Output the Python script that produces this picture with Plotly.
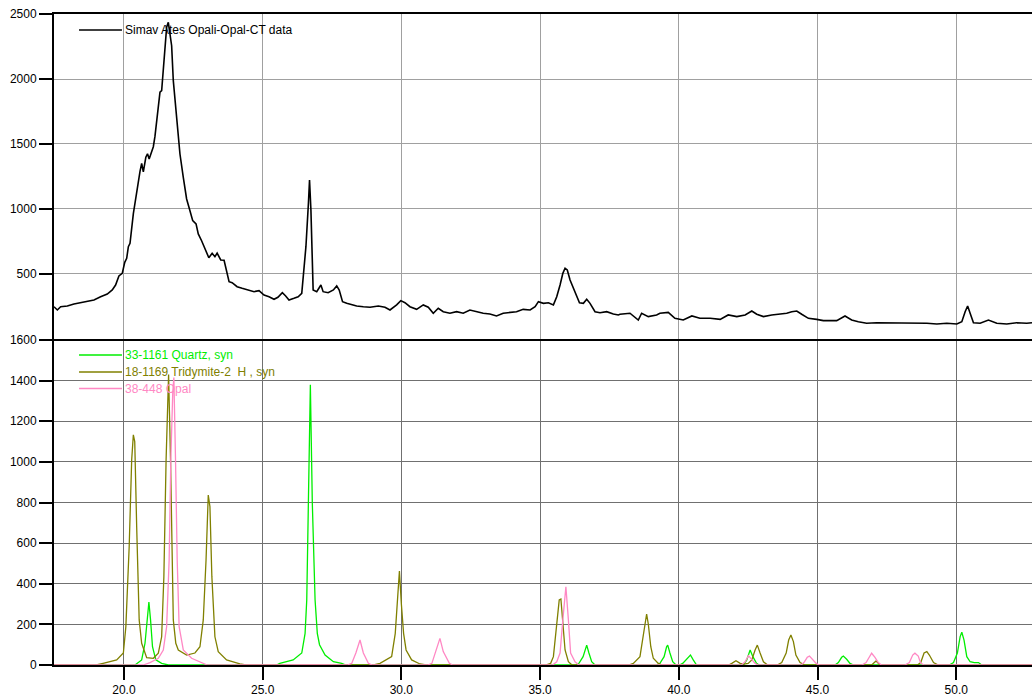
import plotly.graph_objects as go

# ---- measured pattern (2-theta, counts) ----
sample_2theta = [
    17.48, 17.60, 17.72, 17.96, 18.20, 18.44, 18.68, 18.92, 19.16, 19.40,
    19.58, 19.70, 19.82, 19.94, 20.03, 20.10, 20.16, 20.22, 20.34, 20.46,
    20.52, 20.58, 20.64, 20.70, 20.79, 20.85, 20.91, 21.00, 21.06, 21.12,
    21.18, 21.24, 21.30, 21.36, 21.42, 21.48, 21.54, 21.60, 21.66, 21.72,
    21.78, 21.90, 22.02, 22.14, 22.26, 22.38, 22.48, 22.60, 22.68, 22.80,
    22.95, 23.06, 23.18, 23.28, 23.36, 23.49, 23.61, 23.70, 23.79, 23.90,
    24.08, 24.26, 24.44, 24.69, 24.87, 25.05, 25.23, 25.41, 25.55, 25.71,
    25.83, 25.95, 26.13, 26.28, 26.41, 26.49, 26.56, 26.65, 26.69, 26.74,
    26.79, 26.82, 26.95, 27.10, 27.18, 27.36, 27.55, 27.67, 27.76, 27.88,
    28.03, 28.21, 28.39, 28.63, 28.87, 29.17, 29.41, 29.59, 29.83, 29.98,
    30.13, 30.31, 30.55, 30.79, 30.97, 31.15, 31.33, 31.51, 31.75, 31.99,
    32.23, 32.47, 32.71, 32.95, 33.19, 33.43, 33.67, 33.91, 34.15, 34.39,
    34.64, 34.82, 34.94, 35.12, 35.30, 35.48, 35.60, 35.72, 35.82, 35.90,
    35.98, 36.08, 36.18, 36.30, 36.42, 36.56, 36.68, 36.80, 36.98, 37.16,
    37.40, 37.64, 37.82, 37.88, 38.24, 38.54, 38.66, 38.90, 39.20, 39.32,
    39.62, 39.86, 40.16, 40.47, 40.76, 41.13, 41.49, 41.78, 42.09, 42.39,
    42.63, 42.81, 43.05, 43.35, 43.65, 43.89, 44.07, 44.25, 44.43, 44.67,
    44.97, 45.21, 45.45, 45.69, 45.99, 46.23, 46.47, 46.77, 47.13, 47.49,
    47.85, 48.21, 48.57, 48.94, 49.30, 49.66, 50.02, 50.20, 50.32, 50.41,
    50.50, 50.62, 50.86, 51.16, 51.46, 51.82, 52.18, 52.54, 52.73,
]
sample_counts = [
    248, 223, 248, 254, 269, 279, 292, 300, 325, 346,
    377, 415, 485, 505, 590, 620, 710, 736, 965, 1143,
    1223, 1290, 1350, 1285, 1398, 1425, 1385, 1436, 1479, 1560,
    1659, 1756, 1898, 1910, 2064, 2244, 2398, 2436, 2346, 2256,
    1987, 1679, 1423, 1244, 1077, 987, 910, 885, 808, 756,
    684, 625, 659, 633, 660, 608, 605, 518, 441, 433,
    402, 390, 377, 364, 372, 338, 325, 305, 321, 356,
    331, 300, 313, 325, 351, 531, 710, 1044, 1223, 992,
    479, 377, 364, 415, 364, 356, 377, 408, 377, 287,
    274, 262, 254, 248, 244, 254, 244, 223, 262, 295,
    279, 248, 228, 262, 244, 198, 236, 210, 198, 210,
    198, 223, 210, 198, 192, 177, 198, 202, 210, 228,
    223, 248, 287, 274, 279, 262, 325, 415, 505, 544,
    531, 454, 402, 331, 279, 274, 305, 274, 210, 202,
    210, 192, 185, 190, 198, 146, 198, 172, 185, 198,
    205, 159, 146, 177, 159, 159, 151, 185, 172, 185,
    215, 190, 172, 185, 190, 198, 210, 215, 190, 159,
    151, 141, 141, 141, 177, 146, 133, 121, 125, 125,
    121, 125, 125, 121, 115, 121, 115, 133, 210, 254,
    198, 125, 121, 146, 121, 115, 125, 121, 125,
]

# ---- reference patterns ----
quartz_2theta = [
    17.48, 20.40, 20.64, 20.76, 20.84, 20.90, 20.96, 21.03, 21.15, 21.36, 21.60,
    25.50, 25.62, 26.10, 26.41, 26.53, 26.59, 26.65, 26.72, 26.79, 26.89, 26.97,
    27.05, 27.25, 27.55, 27.85, 28.00,
    36.28, 36.40, 36.55, 36.64, 36.68, 36.76, 36.86, 36.98,
    39.20, 39.32, 39.47, 39.56, 39.60, 39.68, 39.78, 39.90,
    40.02, 40.14, 40.31, 40.42, 40.52, 40.64,
    42.33, 42.45, 42.57, 42.67, 42.80, 42.90,
    45.63, 45.75, 45.87, 45.93, 46.05, 46.17, 46.30,
    49.75, 49.90, 50.04, 50.14, 50.20, 50.28, 50.38, 50.50, 50.65, 50.80, 50.92,
    52.73,
]
quartz_counts = [
    0, 0, 25, 107, 222, 310, 222, 90, 25, 8, 0,
    0, 8, 25, 59, 156, 320, 800, 1380, 800, 320, 156,
    100, 49, 16, 8, 0,
    0, 8, 41, 90, 98, 59, 16, 0,
    0, 8, 41, 90, 98, 59, 16, 0,
    0, 8, 33, 49, 25, 0,
    0, 25, 74, 41, 8, 0,
    0, 12, 38, 44, 28, 8, 0,
    0, 12, 59, 140, 161, 123, 41, 16, 12, 12, 0,
    0,
]

tridymite_2theta = [
    17.48, 19.00, 19.25, 19.74, 19.98, 20.07, 20.19, 20.28, 20.34, 20.39,
    20.46, 20.55, 20.64, 20.82, 21.06, 21.24, 21.36, 21.44, 21.52, 21.61,
    21.68, 21.72, 21.78, 21.87, 21.96, 22.26, 22.56, 22.74, 22.86, 22.96,
    23.04, 23.10, 23.17, 23.28, 23.40, 23.70, 24.18, 24.40,
    29.00, 29.23, 29.65, 29.78, 29.86, 29.93, 30.00, 30.08, 30.17, 30.37,
    30.67, 30.90,
    35.20, 35.38, 35.48, 35.62, 35.69, 35.75, 35.82, 35.90, 36.02, 36.15,
    38.20, 38.36, 38.60, 38.72, 38.81, 38.84, 38.90, 38.99, 39.08, 39.26, 39.40,
    41.80, 41.91, 42.06, 42.21, 42.35, 42.50, 42.63, 42.75, 42.83, 42.93,
    43.05, 43.20,
    43.55, 43.71, 43.87, 43.96, 44.04, 44.13, 44.22, 44.37, 44.55,
    46.95, 47.11, 47.25,
    48.60, 48.72, 48.84, 48.94, 49.03, 49.18, 49.35,
    52.73,
]
tridymite_counts = [
    0, 0, 8, 25, 59, 189, 583, 1010, 1133, 1100,
    681, 222, 107, 36, 33, 58, 139, 435, 1010, 1430,
    1010, 681, 222, 107, 74, 49, 59, 90, 222, 517,
    837, 780, 435, 139, 66, 25, 5, 0,
    0, 8, 41, 156, 300, 463, 300, 156, 74, 25,
    5, 0,
    0, 8, 41, 222, 320, 325, 222, 74, 16, 0,
    0, 8, 41, 156, 246, 251, 202, 90, 33, 8, 0,
    0, 8, 21, 8, 4, 8, 25, 74, 98, 59,
    16, 0,
    0, 12, 59, 123, 148, 115, 49, 12, 0,
    0, 20, 0,
    0, 12, 59, 66, 49, 12, 0,
    0,
]

opal_2theta = [
    17.48, 20.70, 20.94, 21.24, 21.42, 21.54, 21.63, 21.69, 21.76, 21.80,
    21.86, 21.92, 21.99, 22.14, 22.44, 22.86, 23.00,
    28.05, 28.21, 28.36, 28.51, 28.63, 28.81, 28.95,
    30.95, 31.10, 31.25, 31.39, 31.51, 31.73, 31.85,
    35.45, 35.60, 35.72, 35.82, 35.93, 36.02, 36.10, 36.26, 36.40,
    42.25, 42.39, 42.51, 42.63, 42.75, 42.85,
    44.40, 44.51, 44.63, 44.71, 44.83, 44.95, 45.05,
    46.60, 46.75, 46.87, 46.95, 47.07, 47.19, 47.30,
    48.15, 48.31, 48.43, 48.51, 48.63, 48.72, 48.85,
    52.73,
]
opal_counts = [
    0, 0, 12, 33, 74, 189, 517, 1010, 1340, 1415,
    1010, 517, 189, 74, 33, 8, 0,
    0, 8, 59, 123, 59, 8, 0,
    0, 8, 66, 131, 66, 8, 0,
    0, 16, 59, 222, 385, 222, 59, 16, 0,
    0, 16, 46, 28, 8, 0,
    0, 12, 38, 44, 28, 8, 0,
    0, 12, 41, 58, 38, 12, 0,
    0, 12, 49, 58, 44, 8, 0,
    0,
]

sample_name = "Simav Ates Opali-Opal-CT data"
reference_names = ["33-1161 Quartz, syn", "18-1169 Tridymite-2  H , syn", "38-448 Opal"]
reference_colors = ["#00ee00", "#808000", "#ff88c4"]
x_ticks = [20, 25, 30, 35, 40, 45, 50]
x_tick_text = ["20.0", "25.0", "30.0", "35.0", "40.0", "45.0", "50.0"]
top_ticks = [500, 1000, 1500, 2000, 2500]
bottom_ticks = [0, 200, 400, 600, 800, 1000, 1200, 1400, 1600]

FONT = "Liberation Sans, Arial, sans-serif"

fig = go.Figure()

fig.add_trace(go.Scatter(
    x=sample_2theta, y=sample_counts, mode="lines", name=sample_name,
    line=dict(color="black", width=1.6), xaxis="x2", yaxis="y2",
    showlegend=False,
))

ref_series = [
    (quartz_2theta, quartz_counts),
    (tridymite_2theta, tridymite_counts),
    (opal_2theta, opal_counts),
]
for (xs, ys), name, color in zip(ref_series, reference_names, reference_colors):
    fig.add_trace(go.Scatter(
        x=xs, y=ys, mode="lines", name=name,
        line=dict(color=color, width=1.3), xaxis="x", yaxis="y",
        showlegend=False,
    ))

# legend-style keys drawn as short line segments with labels
legend_rows = [
    (0.9754, sample_name, "black"),
    (0.4762, reference_names[0], reference_colors[0]),
    (0.4501, reference_names[1], reference_colors[1]),
    (0.4247, reference_names[2], reference_colors[2]),
]
shapes = []
annotations = []
for ypos, label, color in legend_rows:
    shapes.append(dict(type="line", xref="paper", yref="paper",
                       x0=0.0256, x1=0.0695, y0=ypos, y1=ypos,
                       line=dict(color=color, width=1.5)))
    annotations.append(dict(xref="paper", yref="paper", x=0.0705, y=ypos,
                            text=label, showarrow=False, xanchor="left",
                            yanchor="middle", font=dict(family=FONT, size=12, color=color)))

axis_common = dict(showline=True, linecolor="black", linewidth=2,
                   ticks="outside", ticklen=13, tickcolor="black", tickwidth=1.5,
                   zeroline=False, tickfont=dict(family=FONT, size=12, color="black"))

fig.update_layout(
    width=1032, height=698,
    margin=dict(l=54, r=0, t=14, b=33),
    paper_bgcolor="white", plot_bgcolor="white",
    font=dict(family=FONT, size=12, color="black"),
    shapes=shapes, annotations=annotations,
    xaxis=dict(domain=[0, 1], range=[17.48, 52.73], anchor="y",
               tickvals=x_ticks, ticktext=x_tick_text,
               showgrid=True, gridcolor="#707070", gridwidth=1, **axis_common),
    xaxis2=dict(domain=[0, 1], matches="x", anchor="y2", range=[17.48, 52.73],
                showticklabels=False, ticks="", showline=True, mirror=True,
                linecolor="black", linewidth=2, zeroline=False,
                tickvals=x_ticks, showgrid=True, gridcolor="#a0a0a0", gridwidth=1),
    yaxis=dict(domain=[0, 0.4992], range=[0, 1600], anchor="x",
               tickvals=bottom_ticks, tickformat="d",
               showgrid=True, gridcolor="#707070", gridwidth=1, **axis_common),
    yaxis2=dict(domain=[0.5008, 1], range=[0, 2500], anchor="x2",
                tickvals=top_ticks, tickformat="d",
                showgrid=True, gridcolor="#a0a0a0", gridwidth=1, **axis_common),
)

fig.write_html("out.html")
